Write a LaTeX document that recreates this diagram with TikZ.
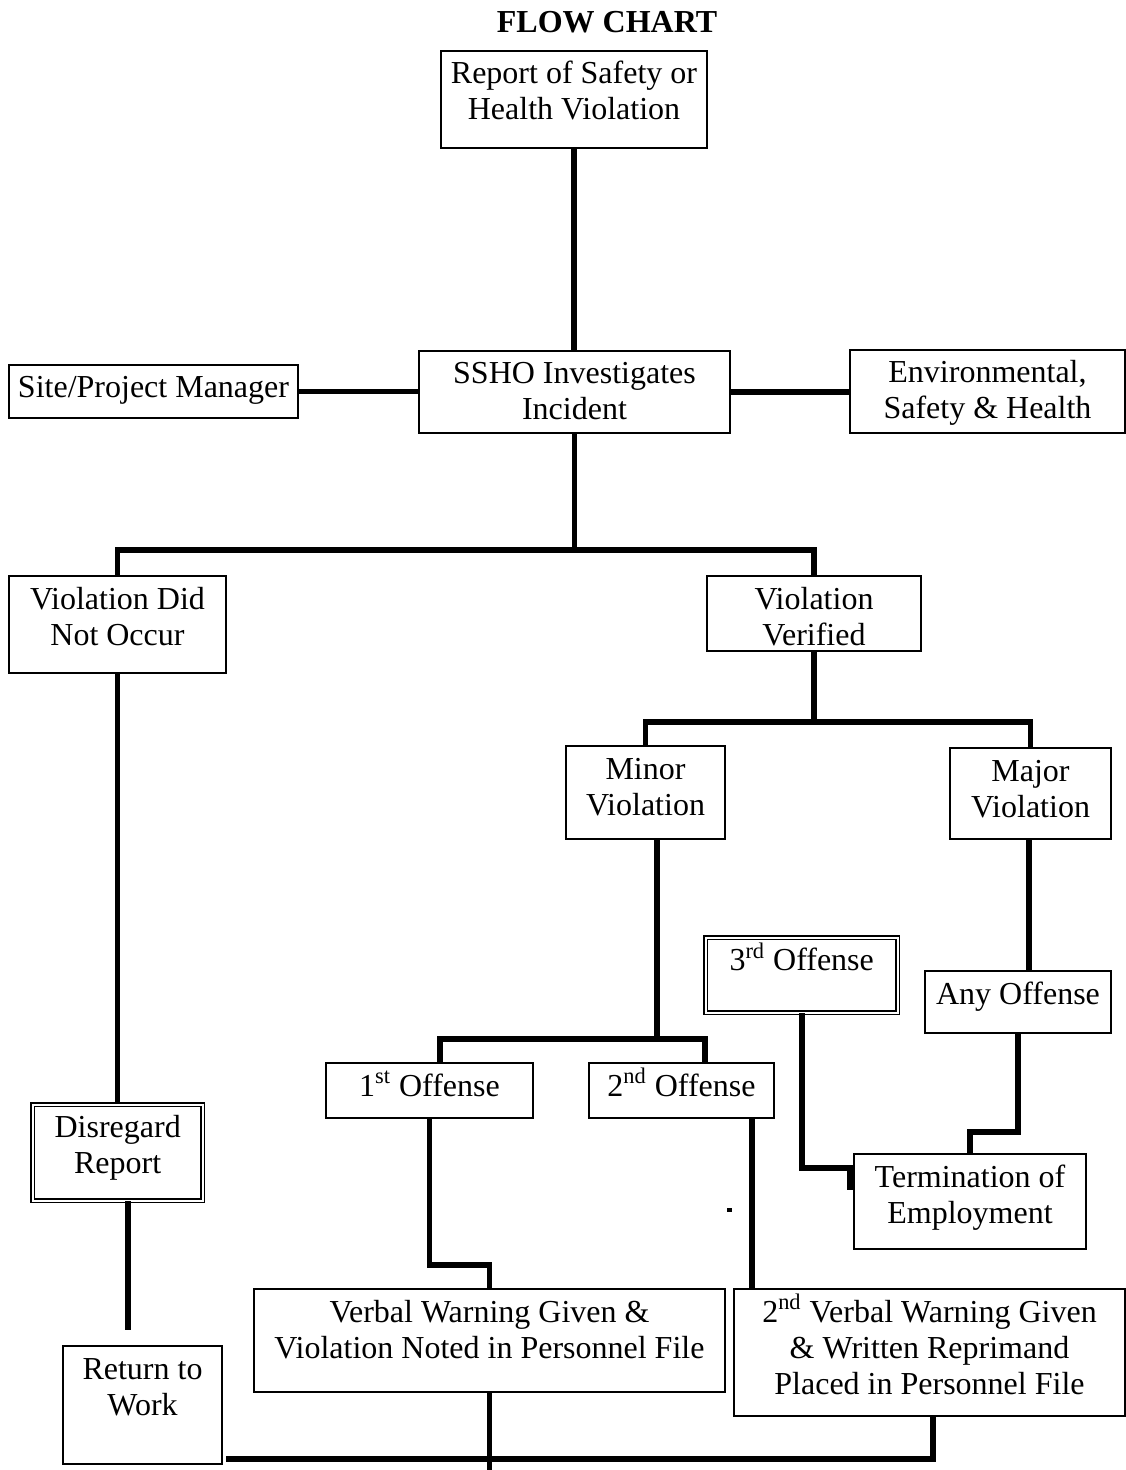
\documentclass[tikz,border=0pt]{standalone}
\usepackage{fontspec}
\setmainfont{Liberation Serif}
\usepackage{tikz}
\usetikzlibrary{positioning}
\newlength{\pxu}
\setlength{\pxu}{0.5pt}
% box text sits at the top, like a word processor text box
\newcommand{\boxtext}[3]{\parbox[c][#2\pxu][t]{#1\pxu}{\centering\rule{0pt}{16.5pt}#3}}
\tikzset{
Box/.style={
	draw, line width=1pt,
	inner sep=0pt,
	anchor=north west
},
DoubleBox/.style={
	Box,
	double, line width=0.7pt,
	double distance=1pt
},
Link/.style={
	draw=black,
	line width=2.8pt
}
}

\begin{document}
\begin{tikzpicture}[x=0.5pt, y=-0.5pt, font=\fontsize{16}{18}\selectfont]
	\useasboundingbox (0,0) rectangle (1125,1470);

	\node[font=\fontsize{16}{18}\selectfont\bfseries, anchor=base] (title) at (607,33) {FLOW CHART};
	\node[Box] (rep) at (440,50) {\boxtext{266}{97}{Report of Safety or\\Health Violation}};

	\node[Box] (mgr) at (8,364) {\boxtext{289}{53}{Site/Project Manager}};
	\node[Box] (ssho) at (418,350) {\boxtext{311}{82}{SSHO Investigates\\Incident}};
	\node[Box] (esh) at (849,349) {\boxtext{275}{83}{Environmental,\\Safety \& Health}};

	\node[Box] (nooc) at (8,575) {\boxtext{217}{97}{Violation Did\\Not Occur}};
	\node[Box] (verif) at (706,575) {\boxtext{214}{75}{Violation\\Verified}};

	\node[Box] (minor) at (565,745) {\boxtext{159}{93}{Minor\\Violation}};
	\node[Box] (major) at (949,747) {\boxtext{161}{91}{Major\\Violation}};

	\node[DoubleBox] (third) at (705,937) {\boxtext{192}{75}{3\textsuperscript{rd} Offense}};
	\node[Box] (anyoff) at (924,970) {\boxtext{186}{62}{Any Offense}};

	\node[Box] (first) at (325,1062) {\boxtext{207}{55}{1\textsuperscript{st} Offense}};
	\node[Box] (second) at (588,1062) {\boxtext{185}{55}{2\textsuperscript{nd} Offense}};

	\node[DoubleBox] (disr) at (32,1104) {\boxtext{170}{96}{Disregard\\Report}};
	\node[Box] (term) at (853,1153) {\boxtext{232}{95}{Termination of\\Employment}};

	\node[Box] (warn1) at (253,1288) {\boxtext{471}{103}{Verbal Warning Given \&\\Violation Noted in Personnel File}};
	\node[Box] (warn2) at (733,1288) {\boxtext{391}{127}{2\textsuperscript{nd} Verbal Warning Given\\\& Written Reprimand\\Placed in Personnel File}};
	\node[Box] (retw) at (62,1345) {\boxtext{159}{118}{Return to\\Work}};

	\coordinate (bar1) at (ssho.south |- 0,550);
	\coordinate (rtop) at (128,1330);
	\coordinate (tin) at (850,1168);
	\coordinate (bbar) at (226,1459);

	\draw[Link] (rep.south) -- (rep.south |- ssho.north);
	\draw[Link] (mgr.east) -- (mgr.east -| ssho.west);
	\draw[Link] (ssho.east) -- (ssho.east -| esh.west);
	\draw[Link] (ssho.south) -- (bar1);
	\draw[Link] (nooc.north) |- (bar1) -| (verif.north);

	\draw[Link] (verif.south) -- ++(0,70) coordinate (bar2);
	\draw[Link] (minor.north) |- (bar2) -| (major.north);

	\draw[Link] (657,0 |- minor.south) -- (657,1039) coordinate (bar3);
	\draw[Link] (440,0 |- first.north) |- (bar3) -| (705,0 |- second.north);

	\draw[Link] (1029,0 |- major.south) -- (1029,0 |- anyoff.north);
	\draw[Link] (anyoff.south) -- ++(0,98) -| (term.north);
	\draw[Link] (third.south) |- (tin) -- ++(0,22);

	\draw[Link] (first.south) -- ++(0,146) -| (warn1.north);
	\draw[Link] (752,0 |- second.south) -- (752,0 |- warn2.north);

	\draw[Link] (nooc.south) -- (nooc.south |- disr.north);
	\draw[Link] (128,0 |- disr.south) -- (rtop);

	\draw[Link] (warn1.south) -- (warn1.south |- 0,1470);
	\draw[Link] (933,0 |- warn2.south) |- (bbar);

	\fill (727,1208) rectangle (732,1212);
\end{tikzpicture}
\end{document}
